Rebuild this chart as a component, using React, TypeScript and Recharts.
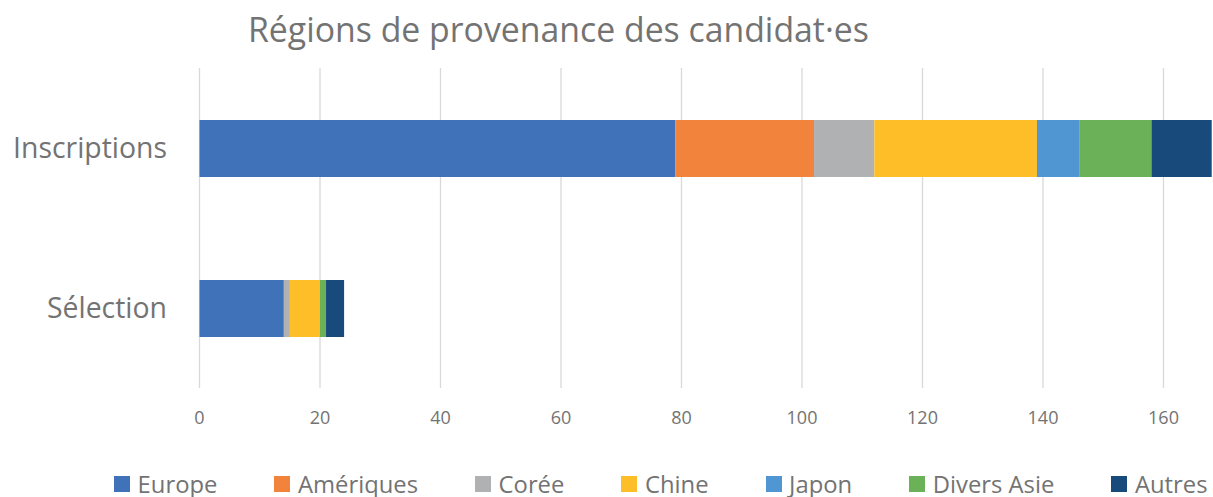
import React from 'react';
import { BarChart, Bar, XAxis, YAxis, CartesianGrid, Legend } from 'recharts';

const categories = ['Inscriptions', 'Sélection'];
const seriesNames = ['Europe', 'Amériques', 'Corée', 'Chine', 'Japon', 'Divers Asie', 'Autres'];
const europe = [79, 14];
const ameriques = [23, 0];
const coree = [10, 1];
const chine = [27, 5];
const japon = [7, 0];
const diversAsie = [12, 1];
const autres = [10, 3];
const xTicks = [0, 20, 40, 60, 80, 100, 120, 140, 160, 180];
const title = 'Régions de provenance des candidat·es';

const seriesValues = [europe, ameriques, coree, chine, japon, diversAsie, autres];
const colors = ['#3F72B8', '#F2833C', '#B0B1B3', '#FEBE28', '#5096D2', '#6BB157', '#194A7C'];

const data = categories.map((name, i) => {
  const row: Record<string, string | number> = { name };
  seriesNames.forEach((s, k) => {
    row[s] = seriesValues[k][i];
  });
  return row;
});

const FONT = '"Open Sans", sans-serif';
const TEXT = '#737373';

const XTick = (props: any) => {
  const { x, y, payload } = props;
  return (
    <text x={x} y={y} dy={36} textAnchor="middle" fill={TEXT} fontSize={18} fontFamily={FONT}>
      {payload.value}
    </text>
  );
};

const YTick = (props: any) => {
  const { x, y, payload } = props;
  return (
    <text x={x} y={y} dx={-32.5} dy={10} textAnchor="end" fill={TEXT} fontSize={28.4} fontFamily={FONT}>
      {payload.value}
    </text>
  );
};

const renderLegend = () => (
  <div style={{ display: 'flex', alignItems: 'center', fontFamily: FONT, fontSize: 23.8, lineHeight: '30px', color: TEXT, whiteSpace: 'nowrap' }}>
    {seriesNames.map((s, k) => (
      <div key={s} style={{ display: 'flex', alignItems: 'center', marginRight: 57 }}>
        <span style={{ display: 'inline-block', width: 16, height: 16, background: colors[k], marginRight: 7.6 }} />
        <span>{s}</span>
      </div>
    ))}
  </div>
);

export default function App() {
  return (
    <div style={{ position: 'absolute', left: 0, top: 0, width: 1213, height: 497, overflow: 'hidden', background: '#fff' }}>
      <div style={{ position: 'absolute', left: 248, top: 9, fontFamily: FONT, fontSize: 33.8, lineHeight: '40px', color: TEXT, whiteSpace: 'nowrap', zIndex: 2 }}>
        {title}
      </div>
      <BarChart
        width={1300}
        height={497}
        data={data}
        layout="vertical"
        margin={{ top: 68, right: 16, bottom: 79, left: 0 }}
      >
        <CartesianGrid horizontal={false} stroke="#D9D9D9" strokeWidth={1.3} />
        <XAxis
          type="number"
          domain={[0, 180]}
          ticks={xTicks}
          axisLine={false}
          tickLine={false}
          tickSize={0}
          tickMargin={0}
          height={30}
          tick={<XTick />}
          interval={0}
        />
        <YAxis
          type="category"
          dataKey="name"
          width={199.5}
          axisLine={false}
          tickLine={false}
          tickSize={0}
          tickMargin={0}
          tick={<YTick />}
        />
        <Legend
          verticalAlign="middle"
          align="center"
          content={renderLegend}
          wrapperStyle={{ left: 114, top: 469, width: 1150, height: 30 }}
        />
        {seriesNames.map((s, k) => (
          <Bar key={s} dataKey={s} stackId="a" fill={colors[k]} barSize={57} isAnimationActive={false} />
        ))}
      </BarChart>
    </div>
  );
}
